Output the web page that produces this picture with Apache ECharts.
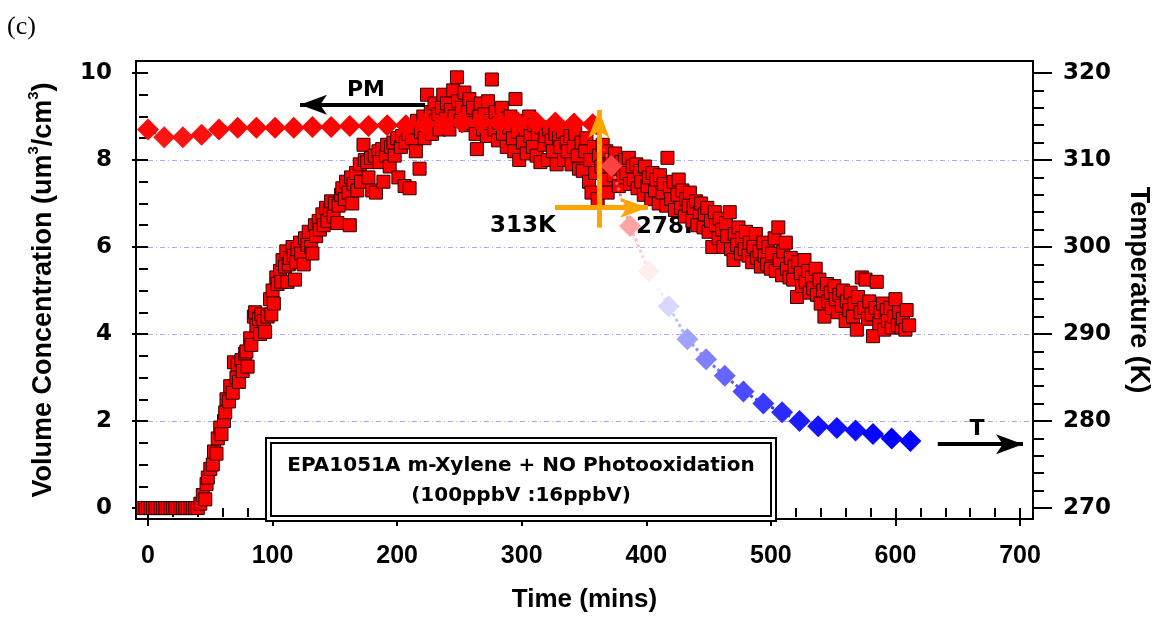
<!DOCTYPE html>
<html>
<head>
    <meta charset="utf-8">
    <title>EPA1051A m-Xylene + NO Photooxidation</title>
    <script src="https://cdn.jsdelivr.net/npm/echarts@6.0.0/dist/echarts.min.js"></script>
    <style>
        html, body { margin: 0; padding: 0; background: #fff; }
        #chart { width: 1163px; height: 618px; }
    </style>
</head>
<body>
<div id="chart"></div>
<script>
    // PM volume concentration (um3/cm3) vs time (mins)
    var pmRise = [
        [-4,0],[-2,0],[0,0],[2,0],[4,0],[6,0],[8,0],[10,0],[12,0],[14,0],[16,0],[18,0],[20,0],[22,0],
        [24,0],[26,0],[28,0],[30,0],[32,0],[34,0],[36,0],[38,0],[40,0],
        [42,0.1],[44,0.3],[46,0.2],[47,0.55],[48,0.7],[50,0.9],[52,1.0],[53,1.3],[55,1.25],[56,1.6],
        [58,1.85],[59,1.7],[61,2.0],[62,2.2],[63,2.5],[65,2.45],[66,2.8],[68,2.65],[69,3.35],[71,3.0],
        [72,3.3],[73,2.9],[75,3.4],[76,3.15],[78,3.55],[79,3.6],[80,3.25],[82,3.9],[83,3.75],[85,4.4],
        [86,4.5],[87,4.2],[89,4.35],[90,4.0],[91,4.45],[93,4.3],[94,4.05],[96,4.4],[98,4.8],[99,4.45],
        [100,5.0],[101,4.7],[103,5.3],[104,5.15],[106,5.45],[107,5.2],[108,5.7],[110,5.55],[111,5.9],
        [112,5.2],[113,5.6],[114,5.75],[116,6.0],[117,5.8],[118,5.25],[119,5.65],[120,5.95],[122,6.1],
        [123,5.85],[125,5.6],[126,6.2],[128,6.05],[129,6.35],[131,6.0],[132,5.85],[134,6.5],[135,6.25],
        [137,6.6],[138,6.4],[140,6.75],[141,6.5],[143,6.9],[144,6.6],[146,6.85],[147,7.05],[149,6.7],
        [150,7.0],[152,6.55],[153,6.95],[155,7.2],[156,7.35],[158,7.1],[159,7.5],[161,7.25],[162,6.5],
        [163,7.6],[164,7.0],[165,7.45],[167,7.7],[168,7.3],[170,7.9],[171,7.5],[173,8.35],[174,8.0],
        [176,7.95],[177,7.6],[179,8.05],[180,7.3],[182,8.1],[183,7.25],[185,8.2],[186,7.95],[188,8.25],
        [189,7.5],[191,8.1],[192,8.35],[194,7.85],[195,8.3],[197,8.4],[198,8.1],[200,8.5],[201,7.6],
        [203,8.3],[204,8.55],[206,7.4],[207,8.4],[209,8.6]
    ];
    var pmPeak = [
        [210,7.35],[212,8.5],[213,8.75],[215,8.2],[216,8.9],[218,7.8],[219,8.65],[221,9.0],[222,8.5],
        [224,9.5],[225,8.8],[227,9.1],[228,8.6],[230,9.3],[231,8.9],[233,9.05],[234,8.7],[236,9.2],
        [237,9.5],[239,8.95],[240,9.3],[242,8.7],[243,9.15],[245,9.6],[246,9.0],[248,9.9],[249,9.35],
        [251,8.9],[252,9.2],[254,9.55],[255,8.8],[257,9.1],[258,9.4],[260,8.85],[261,9.2],[263,8.6],
        [264,8.25],[266,9.0],[267,9.3],[269,8.7],[270,9.05],[272,8.55],[273,9.35],[275,8.9],[276,9.85],
        [278,8.7],[279,9.1],[281,8.45],[282,8.85],[284,9.2],[285,8.6],[287,8.95],[288,8.3],[290,8.75],
        [291,9.0],[293,8.5],[294,8.2],[295,9.4],[297,8.65],[298,8.0],[300,8.9],[301,8.4],[303,8.7],
        [304,8.15],[306,9.0],[307,8.55],[309,8.3],[310,8.8],[312,8.1],[313,8.6],[315,7.95],[316,8.75],
        [318,8.35],[319,8.55],[321,8.0],[322,8.7],[324,8.45],[325,8.2],[327,8.6],[328,7.9],[330,8.5],
        [331,8.3],[333,8.65],[334,8.0],[336,8.4],[337,8.2],[339,8.55],[340,7.9],[342,8.3],[343,8.6],
        [345,8.1],[346,7.8],[348,8.4],[349,7.75],[351,8.2],[352,8.5],[354,7.5],[355,8.0],[356,7.25],
        [358,8.3]
    ];
    var pmDecay = [
        [359,7.7],[361,7.1],[362,8.1],[364,7.85],[365,8.35],[367,7.55],[368,8.2],[369,7.25],[371,7.9],
        [372,8.0],[374,7.65],[375,8.15],[377,7.8],[378,7.4],[380,7.95],[381,7.6],[383,8.0],[384,7.7],
        [386,8.05],[387,7.45],[389,7.85],[390,7.55],[392,7.9],[393,7.35],[395,7.75],[396,7.5],[398,7.2],
        [399,7.85],[401,7.4],[402,7.6],[404,7.1],[405,7.7],[407,7.3],[408,7.55],[410,7.0],[411,7.65],
        [413,7.25],[414,7.45],[416,6.95],[417,8.05],[419,7.35],[420,7.1],[422,7.5],[423,6.85],[425,7.2],
        [426,7.55],[428,6.9],[429,7.3],[431,6.7],[432,7.1],[434,6.95],[435,7.25],[437,6.6],[438,6.9],
        [440,7.05],[441,6.5],[443,6.8],[444,7.0],[446,6.45],[447,6.75],[449,6.9],[450,6.35],[452,6.6],
        [453,6.0],[455,6.8],[456,6.5],[458,6.2],[459,6.65],[461,6.4],[462,6.0],[464,6.55],[465,6.25],
        [467,6.8],[468,5.95],[470,5.7],[471,6.3],[473,6.05],[474,6.45],[476,5.85],[477,6.2],[479,5.95],
        [480,6.35],[482,5.8],[483,6.1],[485,5.65],[486,6.0],[488,6.3],[489,5.75],[491,5.9],[492,5.55],
        [494,6.1],[495,5.8],[497,5.6],[498,6.0],[500,5.5],[501,5.85],[503,6.2],[504,5.45],[506,6.45],
        [507,5.7],[509,5.35],[510,5.9],[512,6.1],[513,5.5],[515,5.3],[516,5.75],[518,5.25],[519,5.55],
        [521,4.85],[522,5.65],[524,5.4],[525,5.1],[527,5.7],[528,5.2],[530,5.45],[531,4.95],[533,5.3],
        [534,5.05],[536,5.5],[537,4.9],[539,5.25],[540,4.7],[542,5.0],[543,4.4],[545,5.15],[546,4.75],
        [548,4.95],[549,4.6],[551,5.1],[552,4.8],[554,4.5],[555,4.9],[557,4.65],[558,5.0],[560,4.3],
        [561,4.75],[563,4.55],[564,4.95],[566,4.4],[567,4.7],[569,4.1],[570,4.85],[572,4.5],[573,5.3],
        [575,4.6],[576,5.25],[578,4.35],[579,4.75],[581,4.45],[582,3.95],[584,4.6],[585,5.2],[587,4.25],
        [588,4.5],[590,4.7],[591,4.1],[593,4.55],[594,4.3],[596,4.6],[597,4.15],[599,4.4],[600,4.8],
        [602,4.2],[603,4.5],[605,4.15],[606,4.35],[608,4.1],[609,4.55],[611,4.2]
    ];

    // chamber temperature (K)
    var tempTime = [0, 13, 28, 43, 57, 72, 87, 102, 117, 132, 147, 162, 177, 192, 207, 222, 237, 252,
        267, 282, 297, 312, 327, 342, 357, 372, 387, 402, 418, 433, 448, 463, 478, 494, 509, 523, 538,
        553, 568, 582, 597, 612];
    var tempK = [313.5, 312.6, 312.6, 312.9, 313.5, 313.7, 313.7, 313.7, 313.7, 313.8, 313.8, 313.9,
        313.9, 314.0, 314.0, 314.1, 314.2, 314.3, 314.3, 314.3, 314.3, 314.3, 314.3, 314.2, 314.1, 309.3,
        302.4, 297.2, 293.2, 289.4, 287.1, 285.2, 283.4, 282.0, 281.0, 280.0, 279.4, 279.2, 278.9, 278.5,
        278.0, 277.7];

    // tick labels
    var xTicks = [0, 100, 200, 300, 400, 500, 600, 700];
    var volTicks = [0, 2, 4, 6, 8, 10];
    var tempTicks = [270, 280, 290, 300, 310, 320];

    // axis extents of the plot frame
    var xMin = -9.63, xMax = 710.44;
    var volMin = -0.252, volMax = 10.275;
    var tMin = 270 + 5 * volMin, tMax = 270 + 5 * volMax;

    function minorTicks(from, to, step, major) {
        var out = [];
        for (var v = from; v <= to + 1e-9; v += step) {
            var r = Math.round(v * 100) / 100;
            if (Math.abs(r % major) > 1e-6 && Math.abs(r % major - major) > 1e-6) out.push(r);
        }
        return out;
    }
    var xMinor = minorTicks(20, 700, 20, 100);
    var volMinor = minorTicks(0.5, 10, 0.5, 2);
    var tempMinor = minorTicks(270, 320, 2, 10);

    var tempData = [];
    for (var i = 0; i < tempTime.length; i++) {
        tempData.push([tempTime[i], tempK[i]]);
    }

    var tickStyle = {color: '#000', width: 2};
    var annoFont = 'DejaVu Sans';

    function valueAxis(extra) {
        var base = {
            type: 'value',
            axisLine: {show: false},
            splitLine: {show: false},
            axisLabel: {show: false},
            axisTick: {show: false}
        };
        for (var k in extra) base[k] = extra[k];
        return base;
    }

    var chart = echarts.init(document.getElementById('chart'));

    var option = {
        animation: false,
        backgroundColor: '#fff',
        grid: {
            left: 136, right: 130, top: 61, bottom: 98,
            show: true, z: 1,
            borderColor: '#000', borderWidth: 2,
            backgroundColor: 'transparent'
        },
        xAxis: [
            valueAxis({
                min: xMin, max: xMax, position: 'bottom', offset: 2,
                axisTick: {show: true, customValues: xTicks, length: 18, lineStyle: tickStyle},
                axisLabel: {
                    show: true, customValues: xTicks, margin: 23, color: '#000',
                    fontFamily: 'Liberation Sans', fontWeight: 'bold', fontSize: 25
                },
                name: 'Time (mins)', nameLocation: 'middle', nameGap: 66,
                nameTextStyle: {color: '#000', fontFamily: 'Liberation Sans', fontWeight: 'bold', fontSize: 26}
            }),
            valueAxis({
                min: xMin, max: xMax, position: 'bottom', offset: 2,
                axisTick: {show: true, customValues: xMinor, length: 9, lineStyle: tickStyle}
            })
        ],
        yAxis: [
            valueAxis({
                min: volMin, max: volMax, position: 'left', splitNumber: 5,
                axisTick: {show: true, customValues: volTicks, length: 16, lineStyle: tickStyle},
                axisLabel: {
                    show: true, customValues: volTicks, margin: 24, color: '#000',
                    fontFamily: annoFont, fontWeight: 'bold', fontSize: 23
                },
                splitLine: {
                    show: true, showMinLine: false, showMaxLine: false,
                    lineStyle: {color: '#a9a9f5', width: 1, type: [5, 3, 1, 3]}
                },
                name: 'Volume Concentration (um{sup|3}/cm{sup|3})',
                nameLocation: 'middle', nameGap: 74,
                nameTextStyle: {
                    color: '#000', fontFamily: 'Liberation Sans', fontWeight: 'bold', fontSize: 27,
                    lineHeight: 36,
                    rich: {
                        sup: {
                            color: '#000', fontFamily: 'Liberation Sans', fontWeight: 'bold',
                            fontSize: 15, lineHeight: 15, verticalAlign: 'top'
                        }
                    }
                }
            }),
            valueAxis({
                min: volMin, max: volMax, position: 'left',
                axisTick: {show: true, customValues: volMinor, length: 9, lineStyle: tickStyle}
            }),
            valueAxis({
                min: tMin, max: tMax, position: 'right',
                axisTick: {show: true, customValues: tempTicks, length: 19, lineStyle: tickStyle},
                axisLabel: {
                    show: true, customValues: tempTicks, margin: 30, color: '#000',
                    fontFamily: annoFont, fontWeight: 'bold', fontSize: 23
                },
                name: 'Temperature (K)', nameLocation: 'middle', nameGap: 92, nameRotate: -90,
                nameTextStyle: {color: '#000', fontFamily: 'Liberation Sans', fontWeight: 'bold', fontSize: 27}
            }),
            valueAxis({
                min: tMin, max: tMax, position: 'right',
                axisTick: {show: true, customValues: tempMinor, length: 11, lineStyle: tickStyle}
            })
        ],
        visualMap: {
            type: 'continuous',
            show: false,
            seriesIndex: 1,
            dimension: 1,
            min: 278,
            max: 314,
            inRange: {color: ['#0000ff', '#ffffff', '#ff0000']}
        },
        series: [
            {
                name: 'PM',
                type: 'scatter',
                xAxisIndex: 0,
                yAxisIndex: 0,
                clip: false,
                z: 2,
                symbol: 'rect',
                symbolSize: 13,
                itemStyle: {color: '#ff0000', borderColor: '#2a0000', borderWidth: 1, opacity: 1},
                data: pmRise.concat(pmPeak, pmDecay),
                markLine: {
                    silent: true,
                    animation: false,
                    symbol: ['none', 'arrow'],
                    label: {show: false},
                    data: [
                        // PM arrow (points to left axis)
                        [{coord: [222.4, 9.27], lineStyle: {color: '#000', width: 4, type: 'solid'}},
                         {coord: [122, 9.27], symbolSize: [15, 27]}],
                        // T arrow (points to right axis)
                        [{coord: [634, 1.468], lineStyle: {color: '#000', width: 4, type: 'solid'}},
                         {coord: [702.4, 1.468], symbolSize: [15, 27]}],
                        // orange cross
                        [{coord: [362, 6.445], lineStyle: {color: '#ffa500', width: 5, type: 'solid'}},
                         {coord: [362, 9.15], symbolSize: [16, 28]}],
                        [{coord: [326.7, 6.904], lineStyle: {color: '#ffa500', width: 5, type: 'solid'}},
                         {coord: [401.4, 6.904], symbolSize: [15, 28]}]
                    ]
                }
            },
            {
                name: 'T',
                type: 'line',
                xAxisIndex: 0,
                yAxisIndex: 2,
                z: 3,
                symbol: 'diamond',
                symbolSize: 22,
                showSymbol: true,
                lineStyle: {width: 3, type: 'dotted'},
                data: tempData
            }
        ],
        graphic: [
            {type: 'text', x: 7, y: 27, z: 1,
                style: {text: '(c)', font: '26px "Liberation Serif"', fill: '#000',
                    textAlign: 'left', textVerticalAlign: 'middle', align: 'left', verticalAlign: 'middle'}},
            {type: 'text', x: 366, y: 90, z: 1,
                style: {text: 'PM', font: 'bold 22px "DejaVu Sans"', fill: '#000',
                    textAlign: 'center', textVerticalAlign: 'middle', align: 'center', verticalAlign: 'middle'}},
            {type: 'text', x: 977, y: 429, z: 1,
                style: {text: 'T', font: 'bold 22px "DejaVu Sans"', fill: '#000',
                    textAlign: 'center', textVerticalAlign: 'middle', align: 'center', verticalAlign: 'middle'}},
            {type: 'text', x: 523, y: 226, z: 1,
                style: {text: '313K', font: 'bold 23px "DejaVu Sans"', fill: '#000',
                    textAlign: 'center', textVerticalAlign: 'middle', align: 'center', verticalAlign: 'middle'}},
            {type: 'text', x: 669, y: 227, z: 1,
                style: {text: '278K', font: 'bold 23px "DejaVu Sans"', fill: '#000',
                    textAlign: 'center', textVerticalAlign: 'middle', align: 'center', verticalAlign: 'middle'}},
            {type: 'rect', z: 100, shape: {x: 266, y: 438, width: 510, height: 83},
                style: {fill: '#fff', stroke: '#000', lineWidth: 2}},
            {type: 'rect', z: 100, shape: {x: 271, y: 443, width: 500, height: 73},
                style: {fill: 'none', stroke: '#000', lineWidth: 2}},
            {type: 'text', x: 521, y: 466, z: 101,
                style: {text: 'EPA1051A m-Xylene + NO Photooxidation', font: 'bold 20px "DejaVu Sans"', fill: '#000',
                    textAlign: 'center', textVerticalAlign: 'middle', align: 'center', verticalAlign: 'middle'}},
            {type: 'text', x: 521, y: 496, z: 101,
                style: {text: '(100ppbV :16ppbV)', font: 'bold 20px "DejaVu Sans"', fill: '#000',
                    textAlign: 'center', textVerticalAlign: 'middle', align: 'center', verticalAlign: 'middle'}}
        ]
    };

    chart.setOption(option);
</script>
</body>
</html>
